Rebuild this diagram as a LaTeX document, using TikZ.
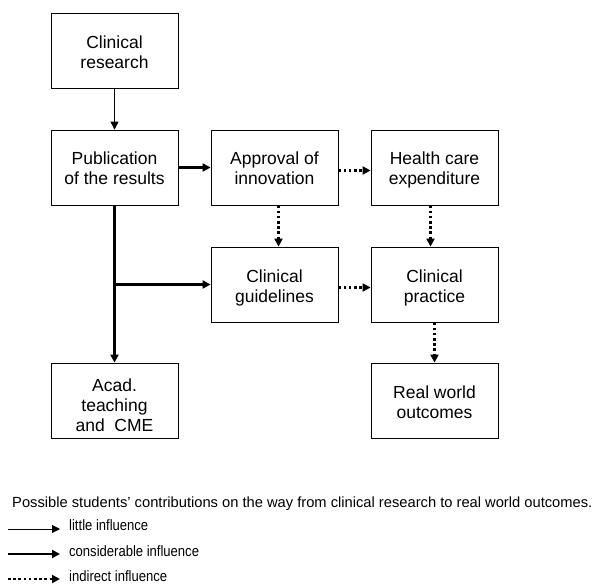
\documentclass[tikz,border=0pt]{standalone}
\usepackage{fontspec}
\setmainfont{Liberation Sans}
\newfontfamily\legfont{Liberation Sans}[FakeStretch=0.87]
\usetikzlibrary{arrows.meta}
\newcommand\tstr{\rule{0pt}{19pt}}
\newcommand\tstrx{\rule{0pt}{26.4pt}}
\newcommand\bstr{\rule[-4pt]{0pt}{4pt}}
\begin{document}
\begin{tikzpicture}[x=1pt,y=-1pt,
  box/.style={draw,line width=0.8pt,minimum width=127pt,minimum height=75pt,inner sep=0pt,align=center,
    font=\fontsize{17.5}{20}\selectfont},
  tip/.style={-{Triangle[length=8pt,width=8pt]}},
  thin/.style={tip,line width=0.9pt},
  thick/.style={tip,line width=2.6pt},
  dotarrow/.style={tip,line width=2.6pt,dash pattern=on 2.6pt off 2.6pt},
  legtext/.style={anchor=base west,inner sep=0pt,font=\legfont\fontsize{15}{17}\selectfont}
]
\useasboundingbox (0,0) rectangle (596,585);
\node[box] (cr) at (114.5,51) {\tstr Clinical\\research\bstr};
\node[box] (pub) at (114.5,167.5) {\tstr Publication\\of the results\bstr};
\node[box] (appr) at (274.5,167.5) {\tstr Approval of\\innovation\bstr};
\node[box] (hce) at (434.5,167.5) {\tstr Health care\\expenditure\bstr};
\node[box] (guid) at (274.5,284.5) {\tstr Clinical\\guidelines\bstr};
\node[box] (prac) at (434.5,284.5) {\tstr Clinical\\practice\bstr};
\node[box] (acad) at (114.5,400.5) {\tstrx Acad.\\teaching\\and\ \ CME\bstr};
\node[box] (rwo) at (434.5,400.5) {\tstr Real world\\outcomes\bstr};

\draw[thin] (cr) -- (pub);
\draw[thick] (pub) -- (appr);
\draw[thick] (pub) -- (acad);
\coordinate (br) at (pub.south |- guid.west);
\draw[thick] (br) -- (guid.west);
\draw[dotarrow] ([yshift=-3pt]appr.east) -- ([yshift=-3pt]hce.west);
\draw[dotarrow] ([yshift=-3pt]guid.east) -- ([yshift=-3pt]prac.west);
\draw[dotarrow] ([xshift=4pt]appr.south) -- ([xshift=4pt]guid.north);
\draw[dotarrow] ([xshift=-4pt]hce.south) -- ([xshift=-4pt]prac.north);
\draw[dotarrow] (prac) -- (rwo);

\node[anchor=base west,inner sep=0pt,font=\fontsize{14.7}{17}\selectfont] (cap) at (12,507.3) {Possible students' contributions on the way from clinical research to real world outcomes.};
\node[legtext] (l1) at (69,530.5) {little influence};
\node[legtext] (l2) at (69,556) {considerable influence};
\node[legtext] (l3) at (69,581.5) {indirect influence};
\coordinate (a1) at (8,529);
\coordinate (b1) at (60,529);
\coordinate (a2) at (8,554);
\coordinate (b2) at (60,554);
\coordinate (a3) at (8,579);
\coordinate (b3) at (60,579);
\draw[thin] (a1) -- (b1);
\draw[thick] (a2) -- (b2);
\draw[dotarrow] (a3) -- (b3);
\end{tikzpicture}
\end{document}
